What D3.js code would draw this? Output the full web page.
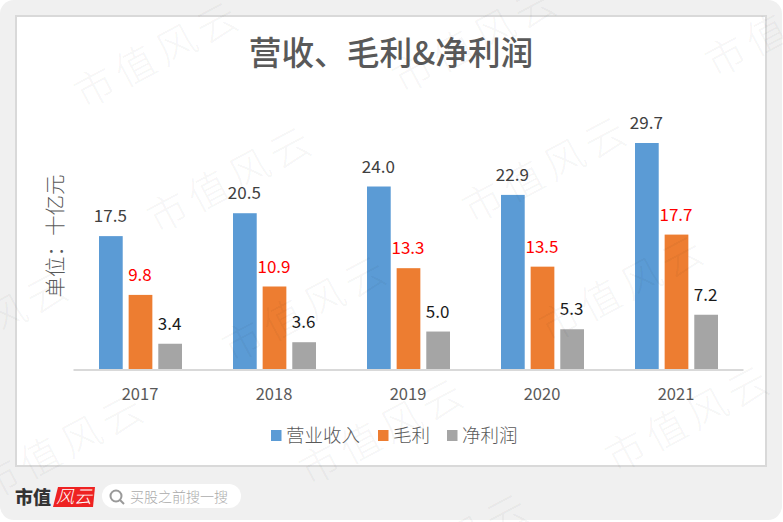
<!DOCTYPE html>
<html><head><meta charset="utf-8">
<script src="https://cdnjs.cloudflare.com/ajax/libs/d3/7.8.5/d3.min.js"></script>
<style>html,body{margin:0;padding:0;background:#fff}svg{display:block}text{font-family:"Noto Sans CJK SC","Open Sans",sans-serif}</style>
</head><body><div id="c"></div>
<script>
const years=["2017","2018","2019","2020","2021"];
const seriesNames=["营业收入","毛利","净利润"];
const revenue=[17.5,20.5,24.0,22.9,29.7];
const gross=[9.8,10.9,13.3,13.5,17.7];
const net=[3.4,3.6,5.0,5.3,7.2];
const seriesValues=[revenue,gross,net];
const colors=["#5b9bd5","#ed7d31","#a5a5a5"];
const labelColors=["#404040","#ff0000","#1a1a1a"];
const wmCentres=[[95,88],[413,73],[726,57],[168,213],[483,203],[-75,358],[243,342],[560,322],[0,480],[320,465],[626,452],[385,580]];

const W=783,H=522;
const svg=d3.select("#c").append("svg").attr("width",W).attr("height",H);
svg.append("rect").attr("width",W).attr("height",H).attr("fill","#fff");
svg.append("rect").attr("width",782).attr("height",520).attr("rx",14).attr("fill","#f0f0f0");
svg.append("rect").attr("x",16).attr("y",16).attr("width",750).attr("height",450).attr("fill","#fff").attr("stroke","#d9d9d9").attr("stroke-width",2);

const x=d3.scaleBand().domain(years).range([73,743]);
const sub=d3.scaleBand().domain(d3.range(3)).range([26,109]).paddingInner(0.2);
const y=d3.scaleLinear().domain([0,29.7]).range([369.7,143]);

svg.append("text").attr("x",391).attr("y",65).attr("text-anchor","middle").attr("font-size",32.7).attr("font-weight",500).attr("fill","#595959").text("营收、毛利&净利润");
svg.append("text").attr("transform","translate(63,236) rotate(-90)").attr("text-anchor","middle").attr("font-size",20.5).attr("font-weight",300).attr("fill","#595959").text("单位：十亿元");

seriesValues.forEach((vals,i)=>{
  const g=svg.append("g");
  g.selectAll("rect").data(vals).join("rect")
    .attr("x",(d,j)=>x(years[j])+sub(i)).attr("width",sub.bandwidth())
    .attr("y",d=>y(d)).attr("height",d=>y(0)-y(d)).attr("fill",colors[i]);
  g.selectAll("text").data(vals).join("text")
    .attr("x",(d,j)=>x(years[j])+sub(i)+sub.bandwidth()/2-0.5).attr("y",d=>y(d)-14)
    .attr("text-anchor","middle").attr("font-size",17).attr("font-family","'Open Sans',sans-serif")
    .attr("fill",labelColors[i]).text(d=>d.toFixed(1));
});

const axis=svg.append("g").attr("transform","translate(0,369.5)").call(d3.axisBottom(x).tickSize(0).tickPadding(18.5));
axis.select(".domain").attr("stroke","#d9d9d9").attr("stroke-width",2);
axis.selectAll("text").attr("font-size",16.5).attr("font-family","'Open Sans',sans-serif").attr("fill","#595959");

const legendX=[271,378,447];
seriesNames.forEach((n,i)=>{
  svg.append("rect").attr("x",legendX[i]).attr("y",430).attr("width",10.5).attr("height",11).attr("fill",colors[i]);
  svg.append("text").attr("x",legendX[i]+15).attr("y",441.5).attr("font-size",18.5).attr("font-weight",300).attr("fill","#595959").text(n);
});

svg.append("text").attr("x",15).attr("y",504).attr("font-size",18).attr("font-weight",900).attr("fill","#333").text("市值");
svg.append("path").attr("d","M58 487L95 487L93 507L53 507Z").attr("fill","#ee2222");
svg.append("text").attr("x",74).attr("y",503).attr("text-anchor","middle").attr("font-size",18).attr("font-weight",300).attr("font-style","italic").attr("fill","#fff").text("风云");
svg.append("rect").attr("x",102).attr("y",484).attr("width",139).attr("height",24).attr("rx",12).attr("fill","#fff");
svg.append("circle").attr("cx",116).attr("cy",496).attr("r",5.5).attr("fill","none").attr("stroke","#999").attr("stroke-width",2);
svg.append("line").attr("x1",120).attr("y1",500).attr("x2",124).attr("y2",504).attr("stroke","#999").attr("stroke-width",2);
svg.append("text").attr("x",130).attr("y",502).attr("font-size",14).attr("font-weight",300).attr("fill","#aaa").text("买股之前搜一搜");

svg.selectAll(".wm").data(wmCentres).join("text").attr("class","wm")
  .attr("transform",d=>`translate(${d[0]},${d[1]}) rotate(-28)`)
  .attr("x",-20).attr("y",14)
  .attr("font-size",40).attr("font-weight",300).attr("letter-spacing",6).attr("fill","#000").attr("fill-opacity",0.05).text("市值风云");
</script></body></html>
